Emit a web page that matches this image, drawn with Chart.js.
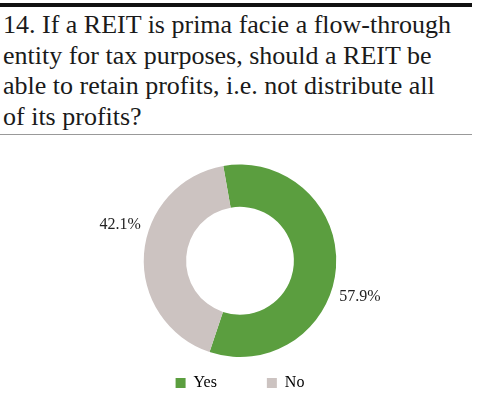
<!DOCTYPE html>
<html>
<head>
<meta charset="utf-8">
<script src="https://cdn.jsdelivr.net/npm/chart.js@4"></script>
<style>
  html, body { margin: 0; padding: 0; background: #fff; overflow: hidden; }
  .wrap { width: 472px; margin: 0; padding-top: 3px; }
  .title {
    border-top: 4px solid #111;
    border-bottom: 1px solid #999;
    font-family: "Liberation Serif", "DejaVu Serif", serif;
    font-size: 26px;
    line-height: 30.5px;
    color: #1a1a1a;
    padding: 3px 0 2px 3px;
    margin: 0;
    font-weight: normal;
  }
  .chart { position: relative; width: 480px; height: 266px; }
</style>
</head>
<body>
<div class="wrap">
  <h2 class="title">14. If a REIT is prima facie a flow-through<br>entity for tax purposes, should a REIT be<br>able to retain profits, i.e. not distribute all<br>of its profits?</h2>
</div>
<div class="chart"><canvas id="donut"></canvas></div>
<script>
/* =================================================================
    Data
================================================================= */

var labels = ["Yes", "No"];
var shares = [57.9, 42.1];
var colours = ["#5b9e3f", "#ccc3c1"];

/* =================================================================
    Outside percentage labels
================================================================= */

var outsideLabels = {
    id: 'outsideLabels',
    afterDatasetsDraw: function (chart) {
        var ctx = chart.ctx;
        var meta = chart.getDatasetMeta(0);
        ctx.save();
        ctx.font = '16px "Liberation Serif", serif';
        ctx.fillStyle = '#222';
        ctx.textAlign = 'center';
        ctx.textBaseline = 'middle';
        meta.data.forEach(function (arc, i) {
            var p = arc.getProps(['x', 'y', 'startAngle', 'endAngle', 'outerRadius'], true);
            var a = (p.startAngle + p.endAngle) / 2 + 0.22;
            var r = p.outerRadius + 29;
            ctx.fillText(shares[i].toFixed(1) + '%', p.x + Math.cos(a) * r, p.y + Math.sin(a) * r);
        });
        ctx.restore();
    }
};

/* =================================================================
    Doughnut chart
================================================================= */

var ctx = document.getElementById("donut");

var data = {
    labels: labels,
    datasets: [{
        data: shares,
        backgroundColor: colours,
        borderWidth: 0
    }]
};

var myChart = new Chart(ctx, {
    type: 'doughnut',
    data: data,
    options: {
        responsive: true,
        maintainAspectRatio: false,
        animation: false,
        cutout: '56%',
        rotation: -10,
        layout: { padding: { top: 29.5, bottom: 0 } },
        plugins: {
            tooltip: { enabled: false },
            legend: {
                position: 'bottom',
                labels: {
                    boxWidth: 10,
                    boxHeight: 10,
                    padding: 18,
                    color: '#222',
                    font: { family: '"Liberation Serif", serif', size: 16 },
                    generateLabels: function (chart) {
                        return labels.map(function (l, i) {
                            var gap = i < labels.length - 1 ? '        ' : '';
                            return { text: l + gap, fillStyle: colours[i], strokeStyle: colours[i], lineWidth: 0, index: i };
                        });
                    }
                }
            }
        }
    },
    plugins: [outsideLabels]
});
</script>
</body>
</html>
